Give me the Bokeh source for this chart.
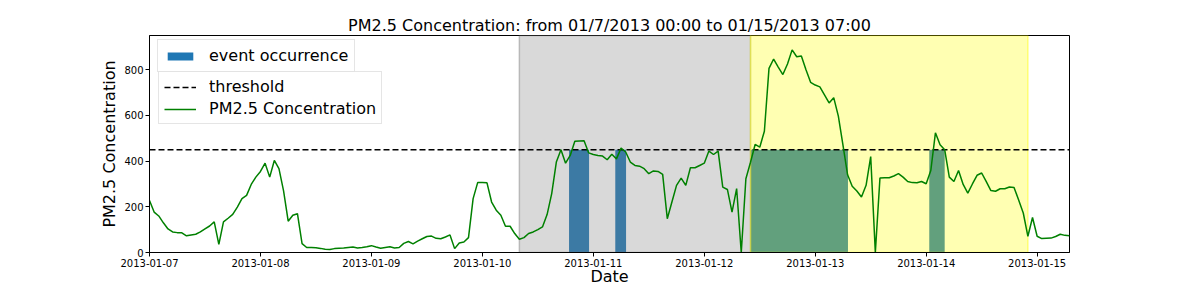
import pandas as pd
from bokeh.plotting import figure
from bokeh.models import (Range1d, BoxAnnotation, Legend, LegendItem, DaysTicker,
                          DatetimeTickFormatter, SingleIntervalTicker, ColumnDataSource)
from bokeh.embed import file_html
from bokeh.resources import INLINE

# ---------------- data ----------------
start_time = "2013-01-07 00:00"
pm25 = [
    228, 177, 160, 130, 103, 90, 87, 86, 73, 77, 80, 90, 103, 116, 134, 36,
    134, 150, 167, 199, 236, 250, 298, 330, 355, 391, 330, 403, 367, 270, 137, 163,
    170, 39, 22, 22, 21, 18, 14, 13, 17, 19, 20, 22, 24, 20, 22, 25,
    30, 24, 19, 22, 25, 20, 22, 40, 48, 38, 50, 60, 70, 72, 62, 60,
    68, 77, 17, 42, 46, 65, 236, 307, 306, 305, 221, 185, 163, 115, 115, 83,
    58, 65, 83, 90, 100, 112, 166, 258, 396, 450, 391, 425, 487, 488, 489, 436,
    429, 425, 422, 406, 430, 410, 457, 440, 396, 381, 378, 367, 345, 357, 355, 342,
    148, 221, 294, 326, 294, 371, 371, 381, 391, 444, 429, 444, 286, 276, 177, 280,
    0, 323, 395, 473, 461, 531, 806, 847, 812, 779, 825, 887, 857, 860, 800, 745,
    733, 725, 690, 655, 678, 597, 470, 340, 290, 269, 243, 294, 420, 0, 326, 327,
    327, 335, 345, 330, 311, 306, 305, 311, 301, 359, 524, 472, 450, 330, 311, 359,
    298, 260, 300, 338, 348, 310, 271, 268, 279, 279, 287, 285, 230, 173, 71, 153,
    71, 61, 62, 63, 70, 80, 75, 73,
]
threshold = 450
event_start = ["2013-01-10 18:45", "2013-01-11 04:45", "2013-01-12 10:00", "2013-01-14 00:40"]
event_end = ["2013-01-10 23:05", "2013-01-11 07:05", "2013-01-13 07:05", "2013-01-14 04:00"]
period_start = ["2013-01-10 08:00", "2013-01-12 10:00"]
period_end = ["2013-01-12 10:00", "2013-01-14 22:00"]
period_colors = ["gray", "yellow"]
y_ticks_interval = 200
title_text = "PM2.5 Concentration: from 01/7/2013 00:00 to 01/15/2013 07:00"

# ---------------- build ----------------
dates = pd.date_range(start_time, periods=len(pm25), freq="h")

def ms(t):
    return (pd.Timestamp(t) - pd.Timestamp("1970-01-01")) // pd.Timedelta("1ms")

FONT = "DejaVu Sans"

p = figure(width=1188, height=288, x_axis_type="datetime",
           output_backend="svg", toolbar_location=None,
           x_range=Range1d(dates[0], dates[-1]), y_range=Range1d(0, 950),
           min_border_left=149, min_border_right=119, min_border_top=35,
           min_border_bottom=36, title=title_text)
p.title.text_font = FONT
p.title.text_font_size = "16px"
p.title.text_font_style = "normal"
p.title.text_color = "black"
p.title.align = "center"
p.title.standoff = 2

p.xgrid.visible = False
p.ygrid.visible = False
p.outline_line_color = "black"
p.outline_line_width = 1
p.outline_line_alpha = 1

bar_src = ColumnDataSource(dict(
    left=pd.to_datetime(event_start), right=pd.to_datetime(event_end),
    top=[threshold] * len(event_start), bottom=[0] * len(event_start)))
r_bars = p.quad(left="left", right="right", top="top", bottom="bottom", source=bar_src,
                fill_color="#1f77b4", line_color=None, level="image")

for s, e, c in zip(period_start, period_end, period_colors):
    p.add_layout(BoxAnnotation(left=ms(s), right=ms(e), fill_color=c, fill_alpha=0.3,
                               line_color=c, line_alpha=0.45, line_width=1.5,
                               level="underlay"))

r_thr = p.line(x=[dates[0], dates[-1]], y=[threshold, threshold], line_color="black",
               line_width=1.5, line_dash="6 3")
r_pm = p.line(x=dates, y=pm25, line_color="green", line_width=1.5)

for ax in (p.xaxis[0], p.yaxis[0]):
    ax.major_label_text_font = FONT
    ax.major_label_text_font_size = "10px"
    ax.major_label_text_color = "black"
    ax.axis_label_text_font = FONT
    ax.axis_label_text_font_size = "16px"
    ax.axis_label_text_font_style = "normal"
    ax.axis_label_text_color = "black"
    ax.major_tick_out = 4
    ax.major_tick_in = 0
    ax.minor_tick_out = 0
    ax.minor_tick_in = 0
    ax.axis_line_color = "black"
    ax.major_tick_line_color = "black"
    ax.major_label_standoff = 2
    ax.axis_label_standoff = 2

p.xaxis.major_label_standoff = 2
p.xaxis.axis_label_standoff = -3
p.xaxis.axis_label = "Date"
p.yaxis.axis_label = "PM2.5 Concentration"
p.xaxis.ticker = DaysTicker(days=list(range(1, 32)))
p.xaxis.formatter = DatetimeTickFormatter(days="%Y-%m-%d", months="%Y-%m-%d",
                                          hours="%Y-%m-%d", years="%Y-%m-%d")
p.yaxis.ticker = SingleIntervalTicker(interval=y_ticks_interval)

def style_legend(lg):
    lg.label_text_font = FONT
    lg.label_text_font_size = "16px"
    lg.label_text_color = "black"
    lg.glyph_width = 32
    lg.glyph_height = 18
    lg.label_height = 18
    lg.label_standoff = 13
    lg.padding = 5
    lg.spacing = 3
    lg.margin = 0
    lg.border_line_color = "#cccccc"
    lg.border_line_width = 1
    lg.background_fill_alpha = 0.8

lg1 = Legend(items=[LegendItem(label="event occurrence", renderers=[r_bars])],
             location=(8, 180))
lg2 = Legend(items=[LegendItem(label="threshold", renderers=[r_thr]),
                    LegendItem(label="PM2.5 Concentration", renderers=[r_pm])],
             location=(9, 128))
style_legend(lg1)
style_legend(lg2)
lg1.glyph_height = 10
lg1.padding = 6
p.add_layout(lg1)
p.add_layout(lg2)

open("out.html", "w").write(file_html(p, INLINE))
